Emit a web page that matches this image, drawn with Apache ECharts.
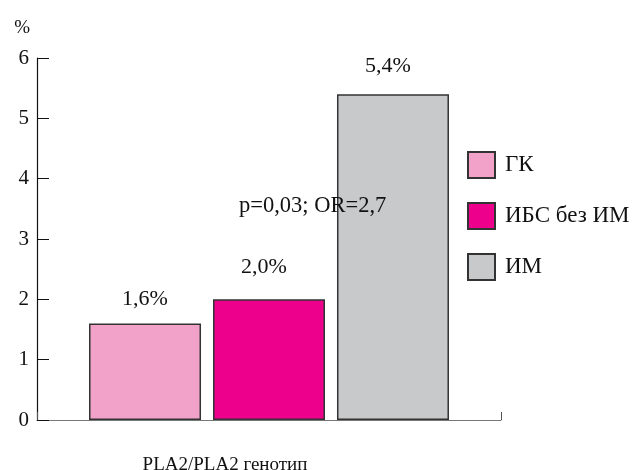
<!DOCTYPE html>
<html><head><meta charset="utf-8">
<script src="https://cdn.jsdelivr.net/npm/echarts@6/dist/echarts.min.js"></script>
<style>html,body{margin:0;padding:0;background:#fff}#c{width:633px;height:470px}</style>
</head><body><div id="c"></div>
<script>
const categories = ['PLA2/PLA2 генотип'];
const seriesNames = ['ГК', 'ИБС без ИМ', 'ИМ'];
const valuesGK = [1.6];
const valuesIBS = [2.0];
const valuesIM = [5.4];
const valueLabels = ['1,6%', '2,0%', '5,4%'];
const yTicks = [0, 1, 2, 3, 4, 5, 6];
const annotation = 'p=0,03; OR=2,7';

const FONT = '"Liberation Serif", "DejaVu Serif", serif';
const colors = ['#F2A2C8', '#EC008C', '#C8C9CB'];
const dists = [13, 21, 17];
const offs = [[0,0],[-5,0],[-5,0]];
const data = [valuesGK, valuesIBS, valuesIM];

const chart = echarts.init(document.getElementById('c'));
chart.setOption({
  animation: false,
  textStyle: {fontFamily: FONT},
  grid: {left: 37, right: 132, top: 58, bottom: 50, containLabel: false, outerBoundsMode: 'none'},
  legend: {
    orient: 'vertical', left: 462, top: 146,
    itemWidth: 27, itemHeight: 26, itemGap: 23,
    icon: 'rect',
    textStyle: {fontFamily: FONT, fontSize: 23, color: '#111', padding: [0,0,0,5]},
    data: seriesNames
  },
  xAxis: {
    type: 'category', data: categories,
    axisLine: {lineStyle: {color: '#777', width: 1.2}},
    axisTick: {show: true, inside: true, length: 8, lineStyle: {color: '#555'}},
    axisLabel: {fontFamily: FONT, fontSize: 19, color: '#111', margin: 36, padding: [0, 88, 0, 0]}
  },
  yAxis: {
    type: 'value', min: 0, max: 6, interval: 1,
    name: '%', nameLocation: 'end', nameGap: 30,
    nameTextStyle: {fontFamily: FONT, fontSize: 19, color: '#111', align: 'right', verticalAlign: 'middle', padding: [0, 7, 0, 0]},
    axisLine: {show: true, lineStyle: {color: '#111', width: 1.2}},
    axisTick: {show: true, inside: true, length: 12, lineStyle: {color: '#111'}},
    splitLine: {show: false},
    axisLabel: {fontFamily: FONT, fontSize: 21, color: '#111', margin: 8,
      formatter: v => yTicks.includes(v) ? String(v) : ''}
  },
  series: seriesNames.map((n, i) => ({
    name: n, type: 'bar', data: data[i],
    barWidth: 112, barGap: '10.7%',
    itemStyle: {color: colors[i], borderColor: '#333', borderWidth: 1.5},
    label: {show: true, position: 'top', distance: dists[i], offset: offs[i],
      formatter: () => valueLabels[i],
      fontFamily: FONT, fontSize: 22, color: '#111'}
  })),
  graphic: [{
    type: 'text', left: 239, top: 195, z: 100,
    style: {text: annotation, font: '22.5px ' + FONT, fill: '#111'}
  }]
});
</script></body></html>
